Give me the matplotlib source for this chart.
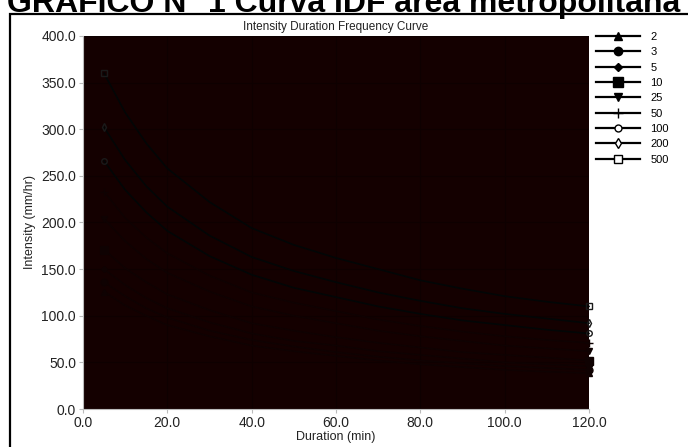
import matplotlib
matplotlib.use("Agg")
import matplotlib.pyplot as plt
from matplotlib.patches import Rectangle

plt.rcParams['font.family'] = ['Liberation Sans', 'DejaVu Sans']

# duracion en minutos
duraciones = [5, 10, 15, 20, 30, 40, 50, 60, 70, 80, 90, 100, 110, 120]

# intensidades (mm/hr), por periodo de retorno
t2 = [126, 111, 100, 90, 78, 68, 62, 57, 52, 48, 45, 42, 40, 38.5]
t3 = [136, 121, 108, 98, 84, 74, 67, 61, 56, 52, 49, 46, 44, 42]
t5 = [150, 133, 119, 108, 93, 81, 73, 68, 62, 58, 54, 50, 48, 46]
t10 = [171, 151, 136, 123, 106, 92, 84, 77, 71, 66, 61, 58, 55, 52]
t25 = [204, 180, 161, 146, 126, 110, 100, 92, 84, 78, 73, 68, 65, 62]
t50 = [233, 205, 184, 167, 143, 125, 114, 105, 96, 89, 83, 78, 74, 71]
t100 = [266, 235, 211, 191, 164, 144, 130, 120, 110, 102, 95, 90, 85, 81]
t200 = [302, 267, 239, 217, 186, 163, 148, 136, 125, 116, 108, 102, 97, 92]
t500 = [360, 318, 285, 258, 222, 194, 176, 162, 150, 138, 129, 121, 115, 110]

etiquetas = ['2', '3', '5', '10', '25', '50', '100', '200', '500']
series = [t2, t3, t5, t10, t25, t50, t100, t200, t500]
marcadores = [('^', 'k'), ('o', 'k'), ('D', 'k'), ('s', 'k'), ('v', 'k'),
              ('+', 'k'), ('o', 'w'), ('d', 'w'), ('s', 'w')]
tamanos = [6, 6, 4, 7, 6, 7, 5, 5, 6]

fig = plt.figure(figsize=(6.88, 4.47), dpi=100)
ax = fig.add_axes([0.1206, 0.085, 0.7355, 0.8345])
ax.set_facecolor('#140000')

# marco del documento
fig.patches.append(Rectangle((10 / 688, -0.1), 1.0, 1 - 14 / 447 + 0.1,
                             transform=fig.transFigure, fill=False,
                             edgecolor='black', linewidth=1.6))

# titulo del documento, cortado arriba como en la captura
fig.text(0.5, 1 - 12 / 447, 'GRAFICO N° 1 Curva IDF área metropolitana',
         ha='center', va='baseline', fontsize=23, fontweight='bold')

for i, (serie, lab) in enumerate(zip(series, etiquetas)):
    color = '#020606' if i >= 6 else '#0f0202'
    ax.plot(duraciones, serie, color=color, linewidth=1.2, zorder=3,
            marker=marcadores[i][0], markersize=tamanos[i] - 1,
            markerfacecolor='none' if marcadores[i][1] == 'w' else color,
            markeredgecolor='#1a1a1a' if i >= 6 else color,
            markevery=[0, len(duraciones) - 1], clip_on=False)

ax.set_xlim(0, 120)
ax.set_ylim(0, 400)
ax.set_xticks(range(0, 121, 20))
ax.set_yticks(range(0, 401, 50))
ax.set_xticklabels([f'{v:.1f}' for v in range(0, 121, 20)])
ax.set_yticklabels([f'{v:.1f}' for v in range(0, 401, 50)])
ax.grid(True, color='#0e0000', linewidth=0.9)
ax.set_axisbelow(True)
ax.tick_params(labelsize=10, colors='#bbbbbb', labelcolor='#222222',
               length=3, pad=2)
for s in ['top', 'right']:
    ax.spines[s].set_visible(False)
for s in ['left', 'bottom']:
    ax.spines[s].set_color('#bbbbbb')

ax.set_xlabel('Duration (min)', fontsize=9, color='#222222', labelpad=1)
ax.set_ylabel('Intensity (mm/hr)', fontsize=9, color='#222222', labelpad=4)
ax.set_title('Intensity Duration Frequency Curve', fontsize=8.5,
             color='#222222', pad=4)

# leyenda
handles = []
for i, lab in enumerate(etiquetas):
    h, = ax.plot([], [], color='black', linewidth=1.6,
                 marker=marcadores[i][0], markersize=tamanos[i],
                 markerfacecolor='black' if marcadores[i][1] == 'k' else 'white',
                 markeredgecolor='black', label=lab)
    handles.append(h)
fig.legend(handles=handles, loc='upper left',
           bbox_to_anchor=(586 / 688, 1 - 22 / 447), frameon=False,
           fontsize=8, handlelength=4.0, labelspacing=0.48,
           handletextpad=0.9)

fig.savefig('out.png', dpi=100)
